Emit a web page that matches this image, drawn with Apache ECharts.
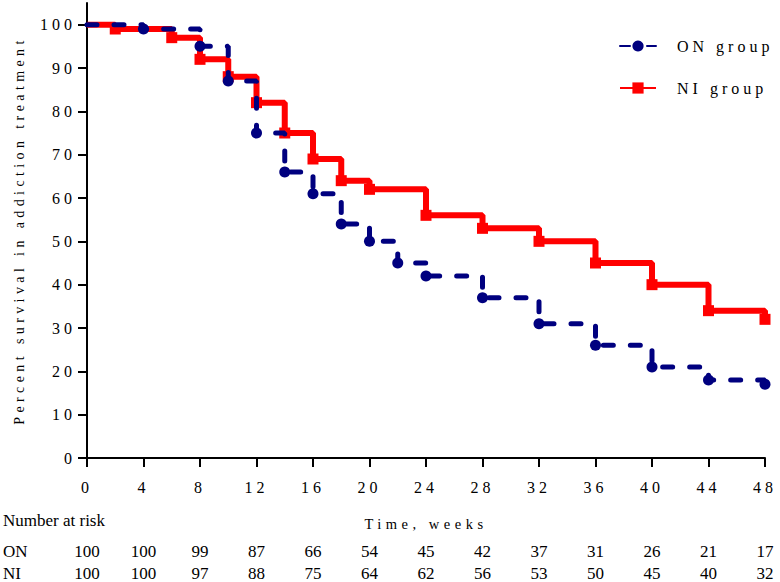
<!DOCTYPE html>
<html><head><meta charset="utf-8">
<script src="https://cdn.jsdelivr.net/npm/echarts@6/dist/echarts.min.js"></script>
<style>
html,body{margin:0;padding:0;background:#fff}
#c{width:780px;height:582px}
#c text{font-family:"Liberation Serif" !important}
text[style*="font-size: 16px"]{letter-spacing:4px}
text[style*="font-size: 14px"]{letter-spacing:4.4px}
text[style*="font-size: 14.5px"]{letter-spacing:4.5px}
.ready #c text{font-family:"Liberation Serif", serif !important}
</style></head><body><div id="c"></div>
<script>
const onWeeks = [0, 4, 8, 10, 12, 14, 16, 18, 20, 22, 24, 28, 32, 36, 40, 44, 48];
const onSurvival = [100, 99, 95, 87, 75, 66, 61, 54, 50, 45, 42, 37, 31, 26, 21, 18, 17];
const niWeeks = [0, 2, 6, 8, 10, 12, 14, 16, 18, 20, 24, 28, 32, 36, 40, 44, 48];
const niSurvival = [100, 99, 97, 92, 88, 82, 75, 69, 64, 62, 56, 53, 50, 45, 40, 34, 32];
const riskWeeks = [0, 4, 8, 12, 16, 20, 24, 28, 32, 36, 40, 44, 48];
const onAtRisk = [100, 100, 99, 87, 66, 54, 45, 42, 37, 31, 26, 21, 17];
const niAtRisk = [100, 100, 97, 88, 75, 64, 62, 56, 53, 50, 45, 40, 32];
const yTicks = [0, 10, 20, 30, 40, 50, 60, 70, 80, 90, 100];

const FONT = 'Liberation Serif';

function riskAxis(name, arr, offset) {
  return {
    type: 'value', min: 0, max: 48, interval: 4, position: 'bottom', offset: offset,
    axisLine: {show: false}, axisTick: {show: false}, splitLine: {show: false},
    axisLabel: {
      margin: 0, verticalAlign: 'middle', color: '#000', fontFamily: FONT, fontSize: 17,
      formatter: function (v) { const i = riskWeeks.indexOf(v); return i >= 0 ? String(arr[i]) : ''; }
    },
    name: name, nameLocation: 'start', nameGap: 84,
    nameTextStyle: {align: 'left', verticalAlign: 'middle', color: '#000', fontFamily: FONT, fontSize: 17}
  };
}

let chart = null;
function render() {
  if (chart) { chart.dispose(); }
  chart = echarts.init(document.getElementById('c'), null, {renderer: 'svg'});
  chart.setOption({
    animation: false,
    backgroundColor: '#fff',
    grid: {left: 87, right: 15, top: 3, bottom: 124, containLabel: false},
    legend: {
      orient: 'vertical', left: 614, top: 33, itemWidth: 36, itemHeight: 14, itemGap: 26,
      data: ['ON group', 'NI group'],
      textStyle: {fontFamily: FONT, fontSize: 16, color: '#000', padding: [0, 0, 0, 16]}
    },
    graphic: [{
      type: 'text', left: 3, top: 512,
      style: {text: 'Number at risk', fontFamily: FONT, fontSize: 17, fill: '#000'}
    }],
    xAxis: [{
      type: 'value', min: 0, max: 48, interval: 4,
      axisLine: {lineStyle: {color: '#000', width: 2}},
      axisTick: {length: 9, lineStyle: {color: '#000', width: 2}},
      splitLine: {show: false},
      axisLabel: {margin: 21, color: '#000', fontFamily: FONT, fontSize: 16},
      name: 'Time, weeks', nameLocation: 'middle', nameGap: 58,
      nameTextStyle: {color: '#000', fontFamily: FONT, fontSize: 14.5}
    }, riskAxis('ON', onAtRisk, 93), riskAxis('NI', niAtRisk, 115)],
    yAxis: {
      type: 'value', min: 0, max: 105,
      axisLine: {show: true, lineStyle: {color: '#000', width: 2}},
      axisTick: {show: true, length: 9, customValues: yTicks, lineStyle: {color: '#000', width: 2}},
      axisLabel: {margin: 11, customValues: yTicks, color: '#000', fontFamily: FONT, fontSize: 16},
      splitLine: {show: false},
      name: 'Percent survival in addiction treatment', nameLocation: 'middle', nameGap: 61,
      nameTextStyle: {color: '#000', fontFamily: FONT, fontSize: 14}
    },
    series: [{
      name: 'NI group', type: 'line', step: 'end', z: 2,
      symbol: 'rect', symbolSize: 11,
      data: niWeeks.map((w, i) => ({value: [w, niSurvival[i]], symbol: i === 0 ? 'none' : 'rect'})),
      itemStyle: {color: '#ff0000'},
      lineStyle: {color: '#ff0000', width: 6}
    }, {
      name: 'ON group', type: 'line', step: 'end', z: 3,
      symbol: 'circle', symbolSize: 11,
      data: onWeeks.map((w, i) => ({value: [w, onSurvival[i]], symbol: i === 0 ? 'none' : 'circle'})),
      itemStyle: {color: '#00007f'},
      lineStyle: {color: '#00007f', width: 5, type: [10, 17], cap: 'round'}
    }]
  });
}
render();
try {
  document.fonts.load('16px "Liberation Serif"').then(function () { render(); document.body.classList.add('ready'); });
} catch (e) {}
setTimeout(function () { document.body.classList.add('ready'); }, 40);
</script></body></html>
